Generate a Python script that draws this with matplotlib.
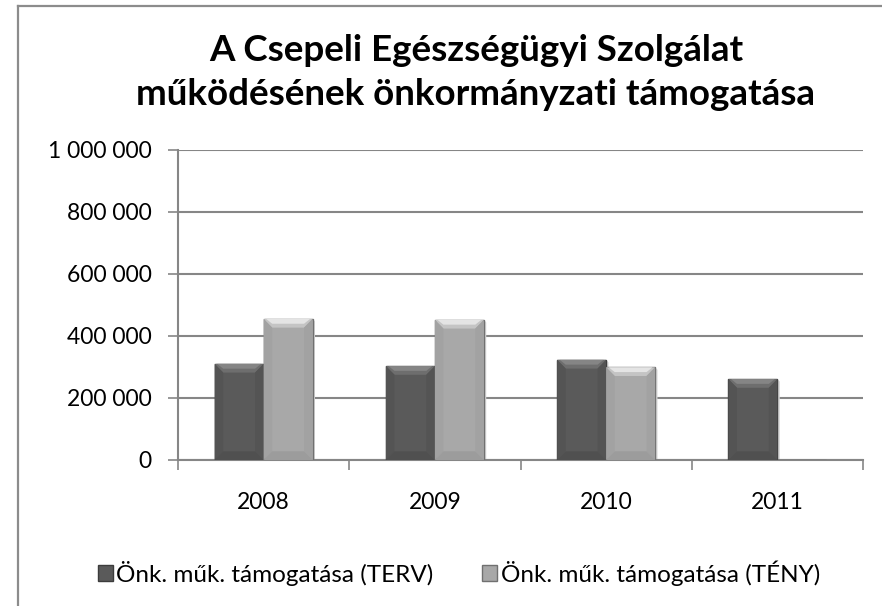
import matplotlib
matplotlib.use("Agg")
import matplotlib.pyplot as plt
from matplotlib.patches import Polygon
from matplotlib.lines import Line2D
import numpy as np

years = ["2008", "2009", "2010", "2011"]
terv = [310000, 303000, 323000, 261000]
teny = [455000, 452000, 299000, 0]
series_names = ["Önk. műk. támogatása (TERV)", "Önk. műk. támogatása (TÉNY)"]
title = "A Csepeli Egészségügyi Szolgálat\nműködésének önkormányzati támogatása"
yticks = [0, 200000, 400000, 600000, 800000, 1000000]

plt.rcParams['font.family'] = ['Lato', 'DejaVu Sans']

fig = plt.figure(figsize=(8.82, 6.06), dpi=100)
ax = fig.add_axes([178 / 882, 1 - 460 / 606, 685 / 882, 310 / 606])

x = np.arange(len(years))
w = 0.286
b1 = ax.bar(x - w / 2, terv, w, color="#5a5a5a", edgecolor="#3c3c3c", linewidth=1.0, zorder=3)
b2 = ax.bar(x + w / 2, teny, w, color="#a8a8a8", edgecolor="#707070", linewidth=1.0, zorder=3)

ax.set_xlim(-0.5, len(years) - 0.5)
ax.set_ylim(0, 1000000)


def bevel(patch, top, top2, side, bottom):
    x0, y0 = patch.get_x(), patch.get_y()
    x1, y1 = x0 + patch.get_width(), y0 + patch.get_height()
    if y1 - y0 <= 0:
        return
    d = 0.05
    e = min(28000, (y1 - y0) / 2)
    polys = [
        ([(x0, y1), (x1, y1), (x1 - d, y1 - e), (x0 + d, y1 - e)], top2),
        ([(x0 + d * 0.3, y1), (x1 - d * 0.3, y1), (x1 - d, y1 - e * 0.55), (x0 + d, y1 - e * 0.55)], top),
        ([(x0, y0), (x0, y1), (x0 + d, y1 - e), (x0 + d, y0 + e)], side),
        ([(x1, y0), (x1, y1), (x1 - d, y1 - e), (x1 - d, y0 + e)], side),
        ([(x0, y0), (x1, y0), (x1 - d, y0 + e), (x0 + d, y0 + e)], bottom),
    ]
    for pts, c in polys:
        ax.add_patch(Polygon(pts, closed=True, facecolor=c, edgecolor="none", zorder=3.5))
    # soft shadow to the right
    ax.add_patch(Polygon([(x1, y0), (x1 + 0.014, y0 - 4000), (x1 + 0.014, y1 - 8000), (x1, y1)],
                         closed=True, facecolor="#d6d6d6", edgecolor="none", zorder=2.5))


for p in b1:
    bevel(p, "#858585", "#6e6e6e", "#545454", "#505050")
for p in b2:
    bevel(p, "#e4e4e4", "#c4c4c4", "#a2a2a2", "#9c9c9c")

ax.set_yticks(yticks)
ax.set_yticklabels([f"{v:,}".replace(",", " ") for v in yticks], fontsize=16.5)
ax.yaxis.grid(True, color="#868686", linewidth=1.5, zorder=1)
ax.set_axisbelow(True)

ax.set_xticks(np.arange(-0.5, len(years)), minor=False)
ax.set_xticklabels([])
ax.set_xticks(x, minor=True)
ax.set_xticklabels(years, minor=True, fontsize=16.5)
ax.tick_params(axis="x", which="minor", length=0, pad=23)
ax.tick_params(axis="x", which="major", length=7, color="#868686", width=1.2, direction="out")
ax.tick_params(axis="y", length=7, color="#868686", width=1.2, direction="out", pad=12)

for s in ["top", "right"]:
    ax.spines[s].set_visible(False)
for s in ["left", "bottom"]:
    ax.spines[s].set_color("#868686")
    ax.spines[s].set_linewidth(1.5)

fig.text(476 / 882, 1 - 72.5 / 606, title, ha="center", va="center", fontsize=26.5,
         fontweight="bold", linespacing=1.42)

leg = fig.legend([b1, b2], series_names, loc="center", bbox_to_anchor=(459 / 882, 1 - 573 / 606),
                 ncol=2, frameon=False, fontsize=17.5, handlelength=0.6, handleheight=0.6,
                 handletextpad=0.15, columnspacing=2.0)

# chart area border (clipped at right and bottom)
fig.add_artist(Line2D([18 / 882, 18 / 882], [0, 1 - 6 / 606], transform=fig.transFigure,
                      color="#8c8c8c", linewidth=1.6))
fig.add_artist(Line2D([18 / 882, 1], [1 - 6 / 606, 1 - 6 / 606], transform=fig.transFigure,
                      color="#8c8c8c", linewidth=1.6))

fig.savefig("out.png", dpi=100, facecolor="white")
